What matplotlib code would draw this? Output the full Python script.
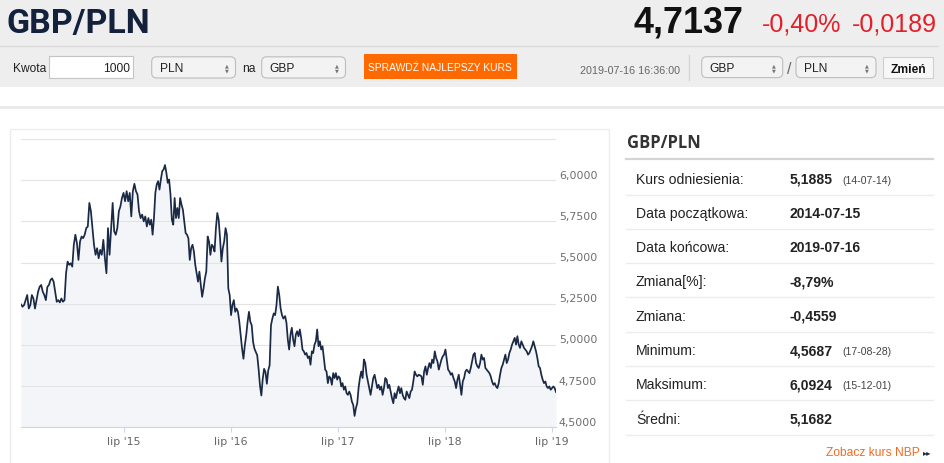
import matplotlib
matplotlib.use('Agg')
import matplotlib.pyplot as plt
from matplotlib.patches import FancyBboxPatch, Rectangle
import matplotlib.transforms as mtransforms
import numpy as np
import pandas as pd

# ---------------- data ----------------
seg1_range = ("2014-07-15", "2015-09-23")
seg1_values = [5.246, 5.232, 5.242, 5.272, 5.303, 5.221, 5.242, 5.303, 5.282, 5.221,
               5.272, 5.323, 5.353, 5.364, 5.323, 5.303, 5.272, 5.353, 5.364, 5.394,
               5.404, 5.384, 5.323, 5.262, 5.272, 5.258, 5.282, 5.262, 5.272, 5.435,
               5.506, 5.486, 5.496, 5.475, 5.608, 5.669, 5.618, 5.516, 5.628, 5.658,
               5.648, 5.669, 5.709, 5.719, 5.862, 5.811, 5.709, 5.608, 5.547, 5.587,
               5.526, 5.577, 5.547, 5.638, 5.526, 5.435, 5.709, 5.547, 5.709, 5.862,
               5.689, 5.669, 5.709, 5.811, 5.841, 5.892, 5.923, 5.872, 5.933, 5.872,
               5.923, 5.780, 5.933, 5.978, 5.933, 5.913, 5.811, 5.770, 5.791, 5.750,
               5.780, 5.719, 5.770]
seg2_range = ("2015-09-28", "2016-12-27")
seg2_values = [5.730, 5.760, 5.669, 5.770, 5.923, 5.974, 5.994, 5.943, 6.004, 6.055,
               6.065, 6.092, 6.045, 5.984, 6.004, 5.913, 5.760, 5.730, 5.892, 5.770,
               5.831, 5.770, 5.892, 5.852, 5.821, 5.750, 5.679, 5.669, 5.648, 5.516,
               5.587, 5.608, 5.567, 5.486, 5.435, 5.384, 5.445, 5.364, 5.292, 5.343,
               5.404, 5.445, 5.658, 5.628, 5.547, 5.608, 5.597, 5.567, 5.709, 5.801,
               5.760, 5.648, 5.506, 5.587, 5.628, 5.709, 5.669, 5.343, 5.303, 5.181,
               5.242, 5.272, 5.201, 5.221, 5.201, 5.140, 5.059, 4.977, 4.916, 4.998,
               5.059, 5.140, 5.201, 5.140, 5.120, 5.018, 4.977, 4.957, 4.937, 4.855,
               4.754, 4.693, 4.794, 4.855, 4.835, 4.764, 4.845, 4.876, 5.120, 5.160,
               5.191, 5.181, 5.242, 5.354, 5.303, 5.221, 5.181, 5.160]
seg3_range = ("2017-01-02", "2018-04-03")
seg3_values = [5.175, 5.134, 5.033, 4.972, 5.063, 5.104, 5.033, 4.992, 5.063, 5.083,
               5.053, 5.094, 5.043, 4.972, 4.961, 4.941, 4.951, 4.921, 4.931, 4.880,
               4.961, 4.951, 5.002, 5.022, 5.094, 4.992, 5.022, 4.972, 4.992, 4.921,
               4.850, 4.839, 4.768, 4.809, 4.799, 4.758, 4.829, 4.799, 4.829, 4.789,
               4.809, 4.799, 4.748, 4.768, 4.728, 4.748, 4.707, 4.697, 4.717, 4.697,
               4.656, 4.636, 4.569, 4.616, 4.646, 4.738, 4.799, 4.839, 4.799, 4.911,
               4.890, 4.819, 4.778, 4.738, 4.697, 4.748, 4.799, 4.819, 4.778, 4.738,
               4.758, 4.728, 4.748, 4.697, 4.738, 4.799, 4.789, 4.738, 4.758, 4.717,
               4.677, 4.646, 4.707, 4.677, 4.717, 4.748, 4.707, 4.738, 4.697, 4.677,
               4.667, 4.717, 4.697, 4.677, 4.717, 4.728, 4.778, 4.839, 4.819, 4.809,
               4.819]
seg4_range = ("2018-04-08", "2019-07-16")
seg4_values = [4.815, 4.809, 4.758, 4.839, 4.870, 4.819, 4.860, 4.890, 4.860, 4.911,
               4.890, 4.961, 4.921, 4.900, 4.850, 4.880, 4.911, 4.931, 4.941, 4.972,
               4.911, 4.850, 4.839, 4.819, 4.829, 4.799, 4.778, 4.738, 4.789, 4.819,
               4.758, 4.697, 4.778, 4.799, 4.839, 4.850, 4.839, 4.829, 4.860, 4.900,
               4.941, 4.951, 4.890, 4.870, 4.860, 4.890, 4.941, 4.911, 4.921, 4.860,
               4.850, 4.839, 4.829, 4.809, 4.778, 4.758, 4.768, 4.748, 4.738, 4.768,
               4.819, 4.860, 4.880, 4.911, 4.941, 4.890, 4.911, 4.951, 4.972, 5.002,
               5.022, 5.043, 5.002, 5.053, 5.002, 4.982, 5.022, 5.002, 4.982, 4.972,
               4.961, 4.941, 4.951, 4.972, 4.992, 5.022, 4.992, 4.961, 4.921, 4.870,
               4.860, 4.819, 4.789, 4.768, 4.778, 4.748, 4.738, 4.748, 4.728, 4.738,
               4.748, 4.738, 4.714]

x_tick_dates = ["2015-07-01", "2016-07-01", "2017-07-01", "2018-07-01", "2019-07-01"]
x_tick_labels = ["lip '15", "lip '16", "lip '17", "lip '18", "lip '19"]
y_grid = [4.5, 4.75, 5.0, 5.25, 5.5, 5.75, 6.0, 6.25]
y_labels = ["4,5000", "4,7500", "5,0000", "5,2500", "5,5000", "5,7500", "6,0000"]

pair_name = "GBP/PLN"
rate_text = "4,7137"
pct_text = "-0,40%"
chg_text = "-0,0189"
timestamp = "2019-07-16 16:36:00"

stat_labels = ["Kurs odniesienia:", "Data początkowa:", "Data końcowa:", "Zmiana[%]:",
               "Zmiana:", "Minimum:", "Maksimum:", "Średni:"]
stat_values = ["5,1885", "2014-07-15", "2019-07-16", "-8,79%", "-0,4559", "4,5687",
               "6,0924", "5,1682"]
stat_notes = ["(14-07-14)", "", "", "", "", "(17-08-28)", "(15-12-01)", ""]

# ---------------- build series ----------------
segments = [(seg1_range, seg1_values), (seg2_range, seg2_values),
            (seg3_range, seg3_values), (seg4_range, seg4_values)]
dates_list, vals_list = [], []
for (d0, d1), vals in segments:
    dates_list.append(pd.date_range(d0, d1, periods=len(vals)))
    vals_list.append(np.array(vals))
dates = dates_list[0].append(dates_list[1:])
values = np.concatenate(vals_list)

W, H = 945, 464
fig = plt.figure(figsize=(W / 100, H / 100), dpi=100)
fig.patch.set_facecolor('white')

SANS = ['Liberation Sans', 'DejaVu Sans']
PT = 0.72  # px -> pt

# ---------------- page layer ----------------
page = fig.add_axes([0, 0, 1, 1])
page.set_xlim(0, W)
page.set_ylim(H, 0)
page.axis('off')

page.add_patch(Rectangle((0, 0), W, 88, fc='#eeeeee', ec='none'))
page.plot([0, 938], [46.5, 46.5], color='#dadada', lw=1)
page.add_patch(Rectangle((0, 106.5), W, 3, fc='#ebebeb', ec='none'))
page.add_patch(Rectangle((10, 130), 599, 340, fc='white', ec='#eeeeee', lw=1))

# header
page.text(6, 33.3, pair_name, fontsize=34 * PT, fontweight='bold', color='#14213d',
          family=['Roboto', 'Liberation Sans', 'DejaVu Sans'], va='baseline', ha='left')
page.text(633, 32.7, rate_text, fontsize=36 * PT, fontweight='bold', color='#111111',
          family=SANS, va='baseline', ha='left')
page.text(762, 31.7, pct_text, fontsize=25 * PT, color='#e3202a',
          family=SANS, va='baseline', ha='left')
page.text(937, 31.7, chg_text, fontsize=25 * PT, color='#e3202a',
          family=SANS, va='baseline', ha='right')

# form bar
FS = 12 * PT
page.text(13, 72.5, "Kwota", fontsize=FS, color='#222222', family=SANS, va='baseline')
page.add_patch(Rectangle((49.3, 57.3), 84, 22, fc='white', ec='#c4c4c4', lw=0.8))
page.text(130.5, 72.5, "1000", fontsize=FS, color='#222222', family=SANS,
          va='baseline', ha='right')


def select_box(x0, x1, y0, y1, label):
    page.add_patch(FancyBboxPatch((x0, y0), x1 - x0, y1 - y0,
                                  boxstyle="round,pad=0,rounding_size=5",
                                  fc='#f3f3f3', ec='#bdbdbd', lw=0.8))
    page.text(x0 + 8, 72.3, label, fontsize=FS, color='#222222', family=SANS,
              va='baseline')
    ax_ = x1 - 9
    page.text(ax_, 65.5, "\u25B2", fontsize=3.6, color='#777777', ha='center',
              va='center', family=['DejaVu Sans'])
    page.text(ax_, 70.8, "\u25BC", fontsize=3.6, color='#777777', ha='center',
              va='center', family=['DejaVu Sans'])


select_box(151.7, 235.5, 57.8, 79.0, "PLN")
page.text(242.5, 72.5, "na", fontsize=FS, color='#222222', family=SANS, va='baseline')
select_box(261.7, 345.5, 57.8, 79.0, "GBP")

page.add_patch(Rectangle((363.5, 55.3), 153, 24.2, fc='#ff6a00', ec='none'))
page.text(440, 71.2, "SPRAWDŹ NAJLEPSZY KURS", fontsize=10.2 * PT, color='white',
          family=SANS, ha='center', va='baseline')

page.text(580, 74, timestamp, fontsize=10.8 * PT, color='#666666', family=SANS,
          va='baseline')
page.plot([689.3, 689.3], [56, 81], color='#d6d6d6', lw=1)
select_box(701.7, 782.7, 57.7, 78.6, "GBP")
page.text(789.5, 74.5, "/", fontsize=16 * PT, color='#666666', family=SANS,
          va='baseline', ha='center')
select_box(796, 876, 57.7, 78.6, "PLN")
page.add_patch(Rectangle((882.7, 58.3), 50.6, 20.7, fc='#f7f7f7', ec='#cfcfcf', lw=0.8))
page.text(908, 73.3, "Zmień", fontsize=12 * PT, fontweight='bold', color='#111111',
          family=SANS, va='baseline', ha='center')

# right stats panel
page.text(626.5, 147.8, pair_name, fontsize=16.5 * PT, fontweight='bold',
          color='#333333', family=['Open Sans', 'DejaVu Sans'], va='baseline')
page.plot([626, 933], [160, 160], color='#d4d4d4', lw=1.6)
row0, row_h = 178.3, 34.3
for i, (lab, val, note) in enumerate(zip(stat_labels, stat_values, stat_notes)):
    yc = row0 + i * row_h
    page.text(636, yc + 5.3, lab, fontsize=14 * PT, color='#222222', family=SANS,
              va='baseline')
    page.text(789.5, yc + 5.3, val, fontsize=14 * PT, color='#222222', family=SANS,
              fontweight='bold', va='baseline')
    if note:
        page.text(842, yc + 5.3, note, fontsize=10.5 * PT, color='#444444',
                  family=SANS, va='baseline')
    ys = yc + 17.2
    page.plot([626, 933], [ys, ys], color='#ececec', lw=1)

page.text(920, 456, "Zobacz kurs NBP", fontsize=12 * PT, color='#f26a21',
          family=SANS, va='baseline', ha='right')
page.text(923, 455.2, "\u25B8\u25B8", fontsize=6, color='#1c2b4a',
          family=['DejaVu Sans'], va='baseline', ha='left')

# ---------------- chart ----------------
left, right, top, bottom = 21, 556, 140, 428.3
ax = fig.add_axes([left / W, (H - bottom) / H, (right - left) / W, (bottom - top) / H])
ax.set_facecolor('none')
ax.set_xlim(dates[0], dates[-1])
ax.set_ylim(4.5, 6.25)

ax.fill_between(dates, values, 4.5, color='#f3f5f8', lw=0, zorder=1)
for g in y_grid:
    ax.axhline(g, color='#e3e3e3', lw=0.8, zorder=1.5)
ax.plot(dates, values, color='#1a2945', lw=1.25, zorder=3, solid_joinstyle='round')

for sp in ['top', 'left', 'right']:
    ax.spines[sp].set_visible(False)
ax.spines['bottom'].set_color('#ccd6eb')
ax.spines['bottom'].set_linewidth(0.8)
ax.spines['bottom'].set_zorder(2)

ax.set_yticks([])
ax.set_xticks(pd.to_datetime(x_tick_dates))
ax.set_xticklabels(x_tick_labels)
ax.tick_params(axis='x', direction='out', length=5 * PT, width=0.8, color='#ccd6eb',
               labelcolor='#666666', labelsize=11 * PT, pad=3)
for t in ax.get_xticklabels():
    t.set_family(['DejaVu Sans'])

trans = mtransforms.blended_transform_factory(ax.transAxes, ax.transData)
for v, lab in zip(y_grid, y_labels):
    ax.annotate(lab, xy=(1, v), xycoords=trans, xytext=(2, 4), textcoords='offset points',
                fontsize=11 * PT, color='#6e6e6e', family=['DejaVu Sans'],
                ha='left', va='center', annotation_clip=False)

fig.savefig('out.png', dpi=100, facecolor='white')
